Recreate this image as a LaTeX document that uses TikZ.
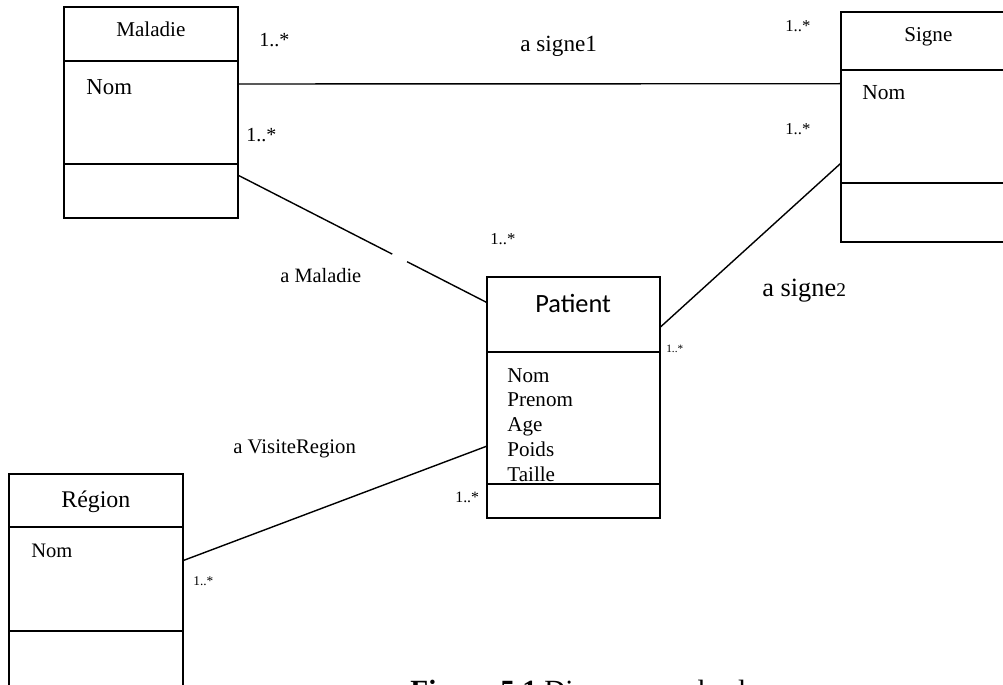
\documentclass[tikz,border=0pt]{standalone}
\usepackage{fontspec}
\setmainfont{Liberation Serif}
\newfontfamily\calfont{Carlito}
\usetikzlibrary{calc}
\newcommand{\fsz}[1]{\fontsize{#1}{#1}\selectfont}
\tikzset{
  cls/.style={draw, rectangle, line width=0.85pt, minimum width=3.48cm, inner sep=0pt},
  lbl/.style={inner sep=0pt, anchor=base west},
  mult/.style={lbl, font=\fsz{11.4}},
  assoc/.style={line width=0.8pt},
}

\begin{document}
\begin{tikzpicture}[x=0.02cm, y=-0.02cm]

\useasboundingbox (0,0) rectangle (1003,685);
\clip (0,0) rectangle (1003,685);

% Maladie
\node[cls, minimum height=1.08cm] (malT) at (151,34) {};
\node[cls, minimum height=2.06cm] (malA) at (151,112.5) {};
\node[cls, minimum height=1.08cm] (malO) at (151,191) {};
\node[lbl, font=\fsz{12}] (malNm) at (116,37) {Maladie};
\node[lbl, font=\fsz{13}] (malAt) at (86,95) {Nom};

% Signe
\node[cls, minimum height=1.16cm] (sigT) at (928,41) {};
\node[cls, minimum height=2.26cm] (sigA) at (928,126.5) {};
\node[cls, minimum height=1.18cm] (sigO) at (928,212.5) {};
\node[lbl, font=\fsz{12}] (sigNm) at (904,42) {Signe};
\node[lbl, font=\fsz{12.2}] (sigAt) at (862,100) {Nom};

% Patient
\node[cls, minimum width=3.46cm, minimum height=1.5cm] (patT) at (573.5,314.5) {};
\node[cls, minimum width=3.46cm, minimum height=2.64cm] (patA) at (573.5,418) {};
\node[cls, minimum width=3.46cm, minimum height=0.68cm] (patO) at (573.5,501) {};
\node[lbl, font=\calfont\fsz{15}] (patNm) at (535,313) {Patient};
\node[inner sep=0pt, anchor=north west, align=left, font=\fontsize{12}{14.1}\selectfont] (patAt) at (507,368)
  {Nom\\Prenom\\Age\\Poids\\Taille};

% Region
\node[cls, minimum height=1.06cm] (regT) at (96,500.5) {};
\node[cls, minimum height=2.08cm] (regA) at (96,579) {};
\node[cls, minimum height=1.38cm] (regO) at (96,665.5) {};
\node[lbl, font=\fsz{13.6}] (regNm) at (61,507) {Région};
\node[lbl, font=\fsz{11.7}] (regAt) at (31,557) {Nom};

% associations
\draw[assoc] (malA.18) -- (sigA.154);
\draw[assoc] (malO.10) -- ($(malO.10)!0.62!(patT.172)$);
\draw[assoc] ($(malO.10)!0.68!(patT.172)$) -- (patT.172);
\draw[assoc] (patT.-8) -- (sigA.203);
\draw[assoc] (patA.198) -- (regA.12);

\node[lbl, font=\fsz{13.2}] (asg1) at (520,52) {a signe1};
\node[lbl, font=\fsz{11.6}] (amal) at (280,283) {a Maladie};
\node[lbl, font=\fsz{15}] (asg2) at (762,297) {a signe{\fsz{11}2}};
\node[lbl, font=\fsz{11.8}] (avis) at (233,453) {a VisiteRegion};

% multiplicities
\node[mult] (m1) at (259,47) {1..*};
\node[mult] (m2) at (246,142) {1..*};
\node[mult, font=\fsz{9.5}] (m3) at (785,32) {1..*};
\node[mult, font=\fsz{9.5}] (m4) at (785,135) {1..*};
\node[mult, font=\fsz{9.5}] (m5) at (490,245) {1..*};
\node[mult, font=\fsz{6.4}] (m6) at (666,353) {1..*};
\node[mult, font=\fsz{9}] (m7) at (455,502) {1..*};
\node[mult, font=\fsz{7.6}] (m8) at (193,585) {1..*};

\node[lbl, font=\fsz{16.7}] (cap) at (410,700) {\textbf{Figure 5.1} Diagramme de classes};

\end{tikzpicture}
\end{document}
